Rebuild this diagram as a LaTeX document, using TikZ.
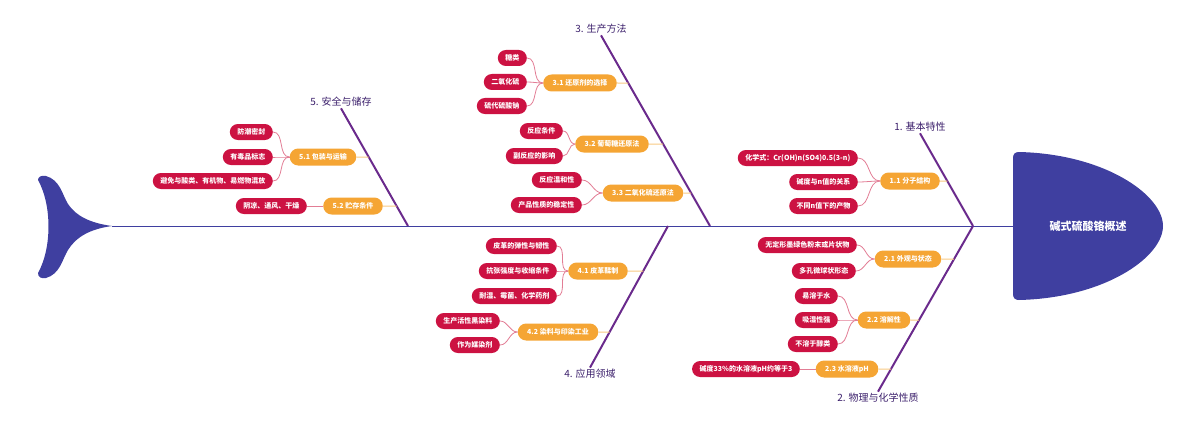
\documentclass[tikz,border=0pt]{standalone}
\usepackage{fontspec}
\setmainfont{Noto Sans CJK SC}
\usetikzlibrary{positioning}
\definecolor{FishNavy}{HTML}{3F3FA0}
\definecolor{BoneViolet}{HTML}{6A2A8C}
\definecolor{LabelInk}{HTML}{3B1F6B}
\definecolor{LeafRed}{HTML}{CC1242}
\definecolor{SubOrange}{HTML}{F5A534}
\definecolor{LeafLink}{HTML}{E27D95}
\definecolor{SubLink}{HTML}{F8C983}

\begin{document}
\begin{tikzpicture}[x=1pt, y=-1pt, font=\fontsize{7}{8}\selectfont]
    \tikzstyle{leaf} = [rectangle, fill=LeafRed, text=white, font=\bfseries\fontsize{7}{8}\selectfont, rounded corners=8pt, minimum height=16pt, inner xsep=7.5pt, inner ysep=0pt, anchor=east]
    \tikzstyle{sub} = [rectangle, fill=SubOrange, text=white, font=\bfseries\fontsize{7}{8}\selectfont, rounded corners=8.5pt, minimum height=17pt, inner xsep=9.5pt, inner ysep=0pt]
    \tikzstyle{cat} = [text=LabelInk, font=\fontsize{10}{12}\selectfont, inner sep=1.5pt]
    \tikzstyle{bone} = [BoneViolet, line width=2pt]
    \tikzstyle{twig} = [LeafLink, line width=0.8pt]
    \tikzstyle{stem} = [SubLink, line width=1pt]

    \useasboundingbox (0,0) rectangle (1200,428);

    % spine, tail and head
    \coordinate (tail) at (112,226);
    \coordinate (neck) at (1013,226);
    \coordinate (j1) at (973,226);
    \coordinate (j3) at (710,226);
    \coordinate (j4) at (668,226);
    \coordinate (j5) at (408,226);
    \draw [FishNavy, line width=1pt] (tail) -- (neck);
    \fill [FishNavy] (tail) .. controls (90,223) and (76,216) .. (68,204) .. controls (62,194) and (60,180) .. (46,176) .. controls (41,175) and (38,177) .. (38,180) .. controls (52,205) and (52,248) .. (38,273) .. controls (38,277) and (41,279) .. (46,278) .. controls (60,274) and (62,260) .. (68,250) .. controls (76,237) and (90,229) .. (tail) -- cycle;
    \fill [FishNavy] (neck) -- (1013,158) .. controls (1013,154) and (1015,152) .. (1019,152) .. controls (1105,154) and (1163,195) .. (1163,226) .. controls (1163,257) and (1105,298) .. (1019,300) .. controls (1015,300) and (1013,298) .. (1013,294) -- cycle;
    \node [text=white, font=\bfseries\fontsize{11}{13}\selectfont] (head) at (1088,226) {碱式硫酸铬概述};

    % main bones
    \node [cat] (cat1) at (920,127) {1. 基本特性};
    \node [cat] (cat2) at (878,398) {2. 物理与化学性质};
    \node [cat] (cat3) at (601,29) {3. 生产方法};
    \node [cat] (cat4) at (590,374) {4. 应用领域};
    \node [cat] (cat5) at (341,102) {5. 安全与储存};
    \draw [bone] (cat1.south) -- (j1);
    \draw [bone] (j1) -- (cat2.north);
    \draw [bone] (cat3.south) -- (j3);
    \draw [bone] (j4) -- (cat4.north);
    \draw [bone] (cat5.south) -- (j5);

    % 1. 基本特性
    \node [sub] (sub11) at (910,181) {1.1 分子结构};
    \node [leaf] (l11a) at (858,158) {化学式：Cr(OH)n(SO4)0.5(3-n)};
    \node [leaf] (l11b) at (858,182) {碱度与n值的关系};
    \node [leaf] (l11c) at (858,206) {不同n值下的产物};
    \draw [stem] (sub11.east) -- (intersection of sub11.east--sub11.west and cat1.south--j1);
    \draw [twig] (sub11.west) to[out=180, in=0] (l11a.east);
    \draw [twig] (sub11.west) to[out=180, in=0] (l11b.east);
    \draw [twig] (sub11.west) to[out=180, in=0] (l11c.east);

    % 2. 物理与化学性质
    \node [sub] (sub21) at (908,259) {2.1 外观与状态};
    \node [leaf] (l21a) at (857,245) {无定形墨绿色粉末或片状物};
    \node [leaf] (l21b) at (856,271) {多孔微球状形态};
    \draw [stem] (sub21.east) -- (intersection of sub21.east--sub21.west and j1--cat2.north);
    \draw [twig] (sub21.west) to[out=180, in=0] (l21a.east);
    \draw [twig] (sub21.west) to[out=180, in=0] (l21b.east);

    \node [sub] (sub22) at (884,320) {2.2 溶解性};
    \node [leaf] (l22a) at (838,296) {易溶于水};
    \node [leaf] (l22b) at (838,320) {吸湿性强};
    \node [leaf] (l22c) at (838,344) {不溶于醇类};
    \draw [stem] (sub22.east) -- (intersection of sub22.east--sub22.west and j1--cat2.north);
    \draw [twig] (sub22.west) to[out=180, in=0] (l22a.east);
    \draw [twig] (sub22.west) to[out=180, in=0] (l22b.east);
    \draw [twig] (sub22.west) to[out=180, in=0] (l22c.east);

    \node [sub] (sub23) at (847,369) {2.3 水溶液pH};
    \node [leaf] (l23a) at (800,369) {碱度33\%的水溶液pH约等于3};
    \draw [stem] (sub23.east) -- (intersection of sub23.east--sub23.west and j1--cat2.north);
    \draw [twig] (sub23.west) -- (l23a.east);

    % 3. 生产方法
    \node [sub] (sub31) at (580,83) {3.1 还原剂的选择};
    \node [leaf] (l31a) at (527,58) {糖类};
    \node [leaf] (l31b) at (527,82) {二氧化硫};
    \node [leaf] (l31c) at (527,106) {硫代硫酸钠};
    \draw [stem] (sub31.east) -- (intersection of sub31.east--sub31.west and cat3.south--j3);
    \draw [twig] (sub31.west) to[out=180, in=0] (l31a.east);
    \draw [twig] (sub31.west) to[out=180, in=0] (l31b.east);
    \draw [twig] (sub31.west) to[out=180, in=0] (l31c.east);

    \node [sub] (sub32) at (612,144) {3.2 葡萄糖还原法};
    \node [leaf] (l32a) at (563,131) {反应条件};
    \node [leaf] (l32b) at (563,156) {副反应的影响};
    \draw [stem] (sub32.east) -- (intersection of sub32.east--sub32.west and cat3.south--j3);
    \draw [twig] (sub32.west) to[out=180, in=0] (l32a.east);
    \draw [twig] (sub32.west) to[out=180, in=0] (l32b.east);

    \node [sub] (sub33) at (643,193) {3.3 二氧化硫还原法};
    \node [leaf] (l33a) at (582,180) {反应温和性};
    \node [leaf] (l33b) at (582,205) {产品性质的稳定性};
    \draw [stem] (sub33.east) -- (intersection of sub33.east--sub33.west and cat3.south--j3);
    \draw [twig] (sub33.west) to[out=180, in=0] (l33a.east);
    \draw [twig] (sub33.west) to[out=180, in=0] (l33b.east);

    % 4. 应用领域
    \node [sub] (sub41) at (598,271) {4.1 皮革鞣制};
    \node [leaf] (l41a) at (557,246) {皮革的弹性与韧性};
    \node [leaf] (l41b) at (557,271) {抗张强度与收缩条件};
    \node [leaf] (l41c) at (557,296) {耐湿、霉菌、化学药剂};
    \draw [stem] (sub41.east) -- (intersection of sub41.east--sub41.west and j4--cat4.north);
    \draw [twig] (sub41.west) to[out=180, in=0] (l41a.east);
    \draw [twig] (sub41.west) to[out=180, in=0] (l41b.east);
    \draw [twig] (sub41.west) to[out=180, in=0] (l41c.east);

    \node [sub] (sub42) at (558,332) {4.2 染料与印染工业};
    \node [leaf] (l42a) at (500,321) {生产活性黑染料};
    \node [leaf] (l42b) at (500,345) {作为媒染剂};
    \draw [stem] (sub42.east) -- (intersection of sub42.east--sub42.west and j4--cat4.north);
    \draw [twig] (sub42.west) to[out=180, in=0] (l42a.east);
    \draw [twig] (sub42.west) to[out=180, in=0] (l42b.east);

    % 5. 安全与储存
    \node [sub] (sub51) at (323,157) {5.1 包装与运输};
    \node [leaf] (l51a) at (273,132) {防潮密封};
    \node [leaf] (l51b) at (273,157) {有毒品标志};
    \node [leaf] (l51c) at (273,181) {避免与酸类、有机物、易燃物混放};
    \draw [stem] (sub51.east) -- (intersection of sub51.east--sub51.west and cat5.south--j5);
    \draw [twig] (sub51.west) to[out=180, in=0] (l51a.east);
    \draw [twig] (sub51.west) to[out=180, in=0] (l51b.east);
    \draw [twig] (sub51.west) to[out=180, in=0] (l51c.east);

    \node [sub] (sub52) at (353,206) {5.2 贮存条件};
    \node [leaf] (l52a) at (307,206) {阴凉、通风、干燥};
    \draw [stem] (sub52.east) -- (intersection of sub52.east--sub52.west and cat5.south--j5);
    \draw [twig] (sub52.west) -- (l52a.east);
\end{tikzpicture}
\end{document}
